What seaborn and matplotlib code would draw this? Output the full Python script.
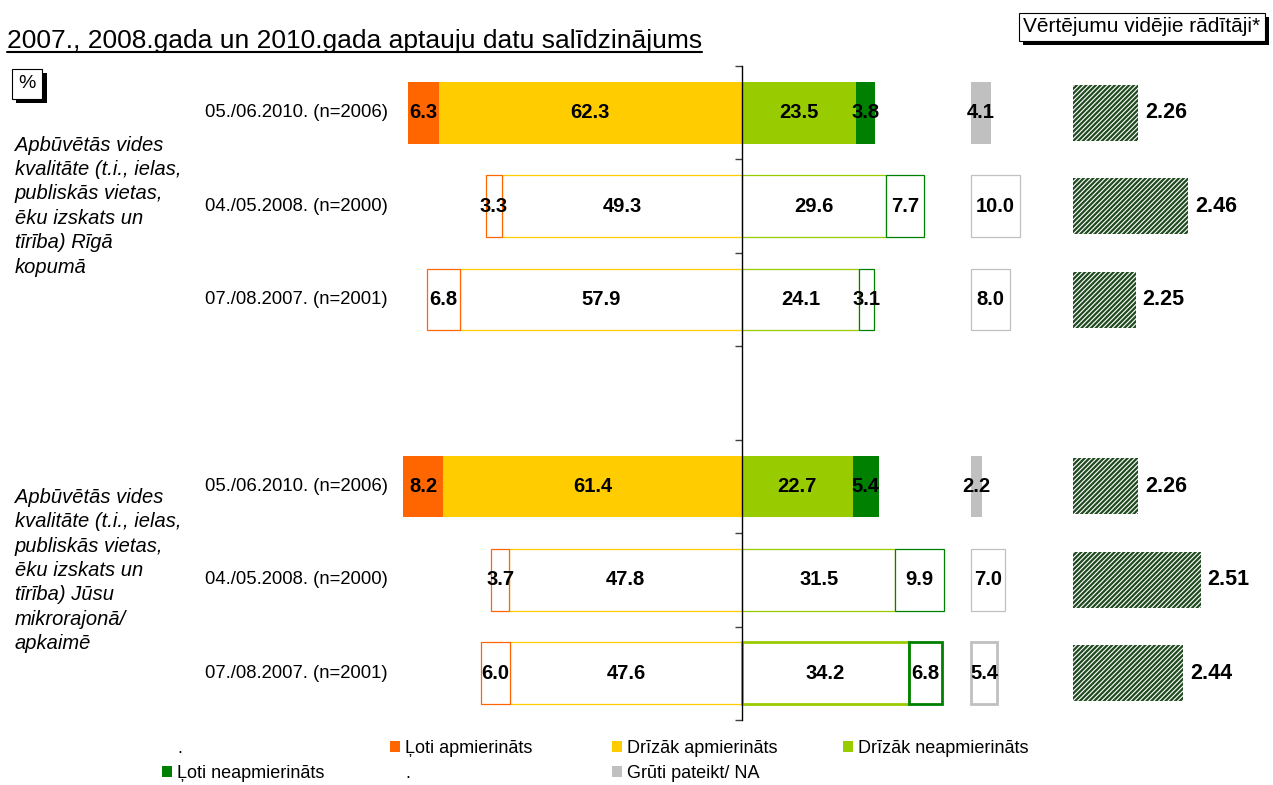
import matplotlib
matplotlib.use("Agg")
import matplotlib.pyplot as plt
import matplotlib.patheffects as pe
import matplotlib.transforms as mtransforms
from matplotlib.patches import Patch
from matplotlib.lines import Line2D
import seaborn as sns

# --- data -----------------------------------------------------------------
group_labels = [
    "Apbūvētās vides\nkvalitāte (t.i., ielas,\npubliskās vietas,\nēku izskats un\ntīrība) Rīgā\nkopumā",
    "Apbūvētās vides\nkvalitāte (t.i., ielas,\npubliskās vietas,\nēku izskats un\ntīrība) Jūsu\nmikrorajonā/\napkaimē",
]
waves = ["05./06.2010. (n=2006)", "04./05.2008. (n=2000)", "07./08.2007. (n=2001)"]

loti_apm = [6.3, 3.3, 6.8, 8.2, 3.7, 6.0]
drizak_apm = [62.3, 49.3, 57.9, 61.4, 47.8, 47.6]
drizak_neapm = [23.5, 29.6, 24.1, 22.7, 31.5, 34.2]
loti_neapm = [3.8, 7.7, 3.1, 5.4, 9.9, 6.8]
gruti = [4.1, 10.0, 8.0, 2.2, 7.0, 5.4]
means = [2.26, 2.46, 2.25, 2.26, 2.51, 2.44]

series_names = ["Ļoti apmierināts", "Drīzāk apmierināts", "Drīzāk neapmierināts",
                "Ļoti neapmierināts", "Grūti pateikt/ NA"]
colors = ["#FF6600", "#FFCC00", "#99CC00", "#008000", "#C0C0C0"]

# --- style ----------------------------------------------------------------
sns.set_theme(style="ticks")
plt.rcParams["font.family"] = ["Liberation Sans", "DejaVu Sans"]
plt.rcParams["text.color"] = "black"
plt.rcParams["hatch.linewidth"] = 1.6

W, H = 1273, 785
fig = plt.figure(figsize=(W / 100, H / 100), dpi=100)

# px per percent ~4.87, centre line at x=742
ppu = 4.87
ax_l, ax_r, ax_t, ax_b = 395, 1045, 66, 720
ax = fig.add_axes([ax_l / W, 1 - ax_b / H, (ax_r - ax_l) / W, (ax_b - ax_t) / H])
ax.set_xlim(-(742 - ax_l) / ppu, (ax_r - 742) / ppu)
ax.set_ylim(6.5, -0.5)

ax2 = fig.add_axes([1073 / W, 1 - ax_b / H, 200 / W, (ax_b - ax_t) / H])
ax2.set_xlim(2.0, 2.8)
ax2.set_ylim(6.5, -0.5)
ax2.axis("off")

na_offset = 47
bar_h = 0.66
filled = [True, False, False, True, False, False]
thick = [False, False, False, False, False, True]

ypos = [g * 4 + i for g in range(len(group_labels)) for i in range(len(waves))]


def draw(width, left, color, k, lw_thick):
    y = ypos[k]
    if filled[k]:
        ax.barh(y, width, left=left, height=bar_h, color=color, linewidth=0)
    else:
        lw = 2.0 if (thick[k] and lw_thick) else 0.9
        ax.barh(y, width, left=left, height=bar_h, facecolor="white",
                edgecolor=color, linewidth=lw)
    ax.text(left + width / 2, y, f"{abs(width):.1f}", ha="center", va="center",
            fontsize=14.5, fontweight="bold", color="black")


for k in range(len(ypos)):
    draw(-drizak_apm[k], 0, colors[1], k, False)
    draw(-loti_apm[k], -drizak_apm[k], colors[0], k, False)
    draw(drizak_neapm[k], 0, colors[2], k, True)
    draw(loti_neapm[k], drizak_neapm[k], colors[3], k, True)
    draw(gruti[k], na_offset, colors[4], k, True)

# centre line with small ticks
for s in ["top", "right", "bottom"]:
    ax.spines[s].set_visible(False)
ax.spines["left"].set_position(("data", 0))
ax.spines["left"].set_color("black")
ax.spines["left"].set_linewidth(1.0)
ax.set_yticks([i - 0.5 for i in range(8)])
ax.set_yticklabels([])
ax.tick_params(axis="y", direction="out", length=5, width=1, color="#404040")
ax.set_xticks([])
ax.patch.set_alpha(0)

# means panel
ax2.barh(ypos, [m - 2.0 for m in means], left=2.0, height=0.6,
         facecolor="white", edgecolor="#1f4a1f", hatch="///////", linewidth=0)
for y, m in zip(ypos, means):
    ax2.annotate(f"{m:.2f}", (m, y), xytext=(5, 0), textcoords="offset points",
                 ha="left", va="center", fontsize=15.5, fontweight="bold")

# row and group labels
trans = mtransforms.blended_transform_factory(fig.transFigure, ax.transData)
for k, y in enumerate(ypos):
    ax.text(388 / W, y, waves[k % 3], transform=trans, ha="right", va="center",
            fontsize=13.3)
for g, lab in enumerate(group_labels):
    ax.text(15 / W, g * 4 + 1 - 0.1 * g, lab, transform=trans, ha="left",
            va="center", fontsize=14.5, style="italic", linespacing=1.36)

# title with underline
title = fig.text(7 / W, 1 - 48 / H, "2007., 2008.gada un 2010.gada aptauju datu salīdzinājums",
                 ha="left", va="baseline", fontsize=19)
fig.canvas.draw()
bb = title.get_window_extent()
fig.add_artist(Line2D([bb.x0 / W, bb.x1 / W], [1 - 52 / H, 1 - 52 / H],
                      transform=fig.transFigure, color="black", lw=1.5))

# boxed labels with shadow
shadow = [pe.withSimplePatchShadow(offset=(3, -3), shadow_rgbFace="black", alpha=1)]
t1 = fig.text(1142 / W, 1 - 27 / H, "Vērtējumu vidējie rādītāji*", ha="center",
              va="center", fontsize=15,
              bbox=dict(boxstyle="square,pad=0.2", fc="white", ec="black", lw=0.8))
t1.get_bbox_patch().set_path_effects(shadow)
t2 = fig.text(27 / W, 1 - 84 / H, "%", ha="center", va="center", fontsize=14,
              bbox=dict(boxstyle="square,pad=0.35", fc="white", ec="black", lw=0.8))
t2.get_bbox_patch().set_path_effects(shadow)

# legend, one column at a time
blank = Patch(facecolor="none", edgecolor="none")
sq = [Patch(facecolor=c, edgecolor="none") for c in colors]
columns = [
    (162, [blank, sq[3]], [".", series_names[3]]),
    (390, [sq[0], blank], [series_names[0], "."]),
    (612, [sq[1], sq[4]], [series_names[1], series_names[4]]),
    (843, [sq[2]], [series_names[2]]),
]
for x, hs, ls in columns:
    fig.legend(hs, ls, loc="upper left", bbox_to_anchor=(x / W, 1 - 740 / H),
               frameon=False, fontsize=13, handlelength=0.55, handleheight=0.55,
               handletextpad=0.28, labelspacing=0.42, borderpad=0, borderaxespad=0)

fig.savefig("out.png", dpi=100)
